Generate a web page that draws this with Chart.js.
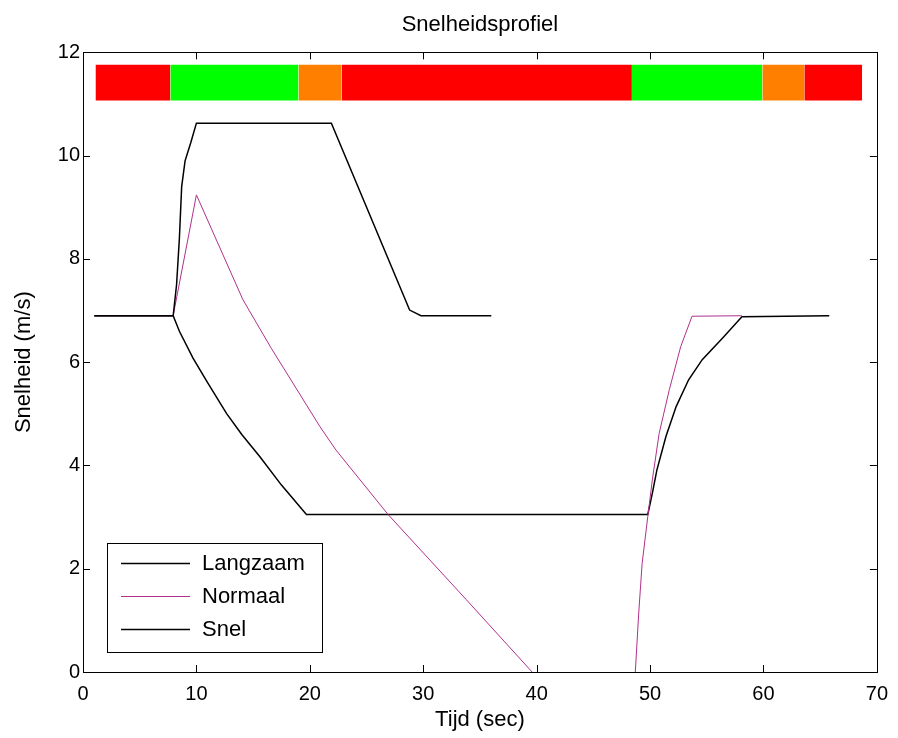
<!DOCTYPE html>
<html>
<head>
<meta charset="utf-8">
<script src="https://cdn.jsdelivr.net/npm/chart.js@4.4.1/dist/chart.umd.min.js"></script>
<style>
html,body{margin:0;padding:0;background:#fff;}
#wrap{width:898px;height:738px;}
</style>
</head>
<body>
<div id="wrap"><canvas id="c" width="898" height="738"></canvas></div>
<script>
// ---- data ----
const chartTitle = 'Snelheidsprofiel';
const xAxisTitle = 'Tijd (sec)';
const yAxisTitle = 'Snelheid (m/s)';
const seriesNames = ['Langzaam', 'Normaal', 'Snel'];

const langzaamX = [1.0, 7.95, 8.5, 9.7, 11.0, 12.65, 14.0, 15.6, 17.5, 19.7, 49.8, 50.2, 50.6, 51.4, 52.3, 53.4, 54.6, 56.4, 58.1, 65.8];
const langzaamY = [6.9, 6.9, 6.6, 6.08, 5.6, 5.01, 4.6, 4.17, 3.62, 3.05, 3.05, 3.46, 3.91, 4.56, 5.14, 5.66, 6.05, 6.47, 6.88, 6.9];

const normaalX1 = [1.0, 7.95, 10.0, 14.1, 16.6, 20.9, 22.3, 26.9, 33.8, 39.6];
const normaalY1 = [6.9, 6.9, 9.24, 7.21, 6.27, 4.75, 4.30, 3.05, 1.40, 0];
const normaalX2 = [48.7, 49.0, 49.3, 49.8, 50.2, 50.8, 51.7, 52.7, 53.7, 58.1];
const normaalY2 = [0, 1.14, 2.1, 3.01, 3.72, 4.62, 5.47, 6.30, 6.89, 6.9];

const snelX = [1.0, 7.95, 8.25, 8.5, 8.7, 9.0, 9.5, 10.0, 21.9, 28.8, 29.8, 36.0];
const snelY = [6.9, 6.9, 7.5, 8.4, 9.4, 9.9, 10.25, 10.63, 10.63, 7.01, 6.9, 6.9];

const phaseEdges = [1.1, 7.7, 19.0, 22.8, 48.4, 59.9, 63.6, 68.7];
const phaseKinds = ['stop', 'go', 'amber', 'stop', 'go', 'amber', 'stop'];
const phaseLow = 11.07;
const phaseHigh = 11.76;

const xTicks = [0, 10, 20, 30, 40, 50, 60, 70];
const yTicks = [0, 2, 4, 6, 8, 10, 12];

// ---- styles ----
const phaseColors = { stop: '#ff0000', go: '#00ff00', amber: '#ff8000' };
const FONT = '"Liberation Sans", Arial, sans-serif';

function pts(xs, ys) { return xs.map((x, i) => ({ x: x, y: ys[i] })); }

const lineDatasets = [
  { label: seriesNames[0], data: pts(langzaamX, langzaamY), borderColor: '#000000', borderWidth: 1.5, order: 3 },
  { label: seriesNames[1], data: pts(normaalX1, normaalY1).concat([{ x: 44, y: null }], pts(normaalX2, normaalY2)), borderColor: '#b0308c', borderWidth: 1, order: 2 },
  { label: seriesNames[2], data: pts(snelX, snelY), borderColor: '#000000', borderWidth: 1.5, order: 1 }
].map(d => Object.assign(d, { pointRadius: 0, tension: 0, fill: false, spanGaps: false }));

const phaseDatasets = phaseKinds.map((k, i) => ({
  label: 'phase' + i,
  data: [{ x: phaseEdges[i], y: phaseLow }, { x: phaseEdges[i + 1], y: phaseLow }],
  borderWidth: 0,
  borderColor: 'rgba(0,0,0,0)',
  backgroundColor: phaseColors[k],
  fill: { value: phaseHigh },
  pointRadius: 0,
  order: 10
}));

const axesBox = {
  id: 'axesBox',
  afterDraw(chart) {
    const { ctx, chartArea: a, scales } = chart;
    ctx.save();
    ctx.strokeStyle = '#000';
    ctx.lineWidth = 1;
    ctx.strokeRect(Math.round(a.left) + 0.5, Math.round(a.top) + 0.5, Math.round(a.right - a.left), Math.round(a.bottom - a.top));
    const tl = 7;
    ctx.beginPath();
    scales.x.ticks.forEach(t => {
      const p = Math.round(scales.x.getPixelForValue(t.value)) + 0.5;
      ctx.moveTo(p, a.bottom); ctx.lineTo(p, a.bottom - tl);
      ctx.moveTo(p, a.top); ctx.lineTo(p, a.top + tl);
    });
    scales.y.ticks.forEach(t => {
      const p = Math.round(scales.y.getPixelForValue(t.value)) + 0.5;
      ctx.moveTo(a.left, p); ctx.lineTo(a.left + tl, p);
      ctx.moveTo(a.right, p); ctx.lineTo(a.right - tl, p);
    });
    ctx.stroke();
    ctx.restore();
  }
};

const boxLegend = {
  id: 'boxLegend',
  afterDraw(chart) {
    const { ctx, chartArea: a } = chart;
    const items = chart.data.datasets.filter(d => seriesNames.includes(d.label));
    const left = Math.round(a.left) + 24, top = Math.round(a.bottom) - 129, w = 215, h = 109;
    ctx.save();
    ctx.fillStyle = '#fff';
    ctx.fillRect(left, top, w, h);
    ctx.strokeStyle = '#000';
    ctx.lineWidth = 1;
    ctx.strokeRect(left + 0.5, top + 0.5, w, h);
    ctx.font = '22px ' + FONT;
    ctx.textBaseline = 'middle';
    ctx.textAlign = 'left';
    items.forEach((ds, k) => {
      const yy = top + 20 + k * 33;
      ctx.beginPath();
      ctx.strokeStyle = ds.borderColor;
      ctx.lineWidth = ds.borderWidth;
      ctx.moveTo(left + 14, yy + 0.5);
      ctx.lineTo(left + 83, yy + 0.5);
      ctx.stroke();
      ctx.fillStyle = '#000';
      ctx.fillText(ds.label, left + 95, yy + 1);
    });
    ctx.restore();
  }
};

new Chart(document.getElementById('c'), {
  type: 'line',
  data: { datasets: lineDatasets.concat(phaseDatasets) },
  options: {
    responsive: false,
    devicePixelRatio: 1,
    animation: false,
    layout: { padding: { left: 0, right: 20, top: 0, bottom: 0 } },
    plugins: {
      legend: { display: false },
      tooltip: { enabled: false },
      title: {
        display: true,
        fullSize: false,
        text: chartTitle,
        color: '#000',
        font: { family: FONT, size: 22, weight: 'normal' },
        padding: { top: 12, bottom: 14 }
      }
    },
    scales: {
      x: {
        type: 'linear',
        min: 0, max: 70,
        afterBuildTicks: s => { s.ticks = xTicks.map(v => ({ value: v })); },
        afterFit: s => { s.height = 66; },
        grid: { display: false, drawTicks: false },
        border: { display: false },
        ticks: { color: '#000', padding: 10, maxRotation: 0, font: { family: FONT, size: 20 } },
        title: { display: true, text: xAxisTitle, color: '#000', font: { family: FONT, size: 22 }, padding: { top: 0, bottom: 5 } }
      },
      y: {
        type: 'linear',
        min: 0, max: 12,
        afterBuildTicks: s => { s.ticks = yTicks.map(v => ({ value: v })); },
        afterFit: s => { s.width = 83; },
        grid: { display: false, drawTicks: false },
        border: { display: false },
        ticks: { color: '#000', padding: 3, font: { family: FONT, size: 20 } },
        title: { display: true, text: yAxisTitle, color: '#000', font: { family: FONT, size: 22 }, padding: { top: 11, bottom: 0 } }
      }
    }
  },
  plugins: [axesBox, boxLegend]
});
</script>
</body>
</html>
